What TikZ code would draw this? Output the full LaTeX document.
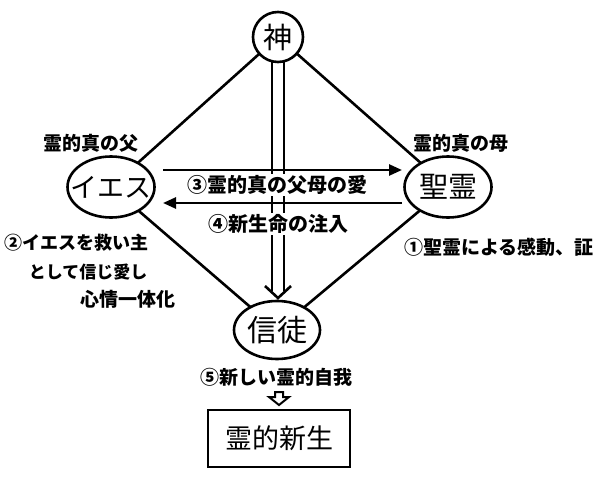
\documentclass[tikz,border=0pt]{standalone}
\usepackage{fontspec}
\newfontfamily\jp{Noto Sans CJK JP}
\usetikzlibrary{arrows.meta,shapes.geometric}
\newcommand{\zw}[1]{\makebox[0pt][c]{#1}}
\begin{document}
\begin{tikzpicture}[x=1pt,y=-1pt,
  lw/.style={line width=2.6pt},
  bignode/.style={draw,lw,ellipse,inner sep=0pt,outer sep=0pt,font=\jp\fontsize{29}{29}\selectfont},
  lbl/.style={font=\jp\bfseries\fontsize{19}{19}\selectfont,inner sep=1pt},
  conn/.style={lw},
  arr/.style={lw,-{Triangle[length=13pt,width=11pt]}}
]
\useasboundingbox (0,0) rectangle (600,482);
% main nodes
\node[bignode,circle,minimum size=50pt] (god) at (278,37) {\zw{神}};
\node[bignode,minimum width=87pt,minimum height=61pt,font=\jp\fontsize{27}{27}\selectfont] (jesus) at (111,187) {\zw{イエス}};
\node[bignode,minimum width=87pt,minimum height=61pt] (spirit) at (448,187) {\zw{聖霊}};
\node[bignode,minimum width=86pt,minimum height=58pt,font=\jp\fontsize{30}{30}\selectfont] (bel) at (277,330) {\zw{信徒}};
\node[draw,lw,rectangle,inner sep=0pt,minimum width=142pt,minimum height=57pt,font=\jp\fontsize{27}{27}\selectfont] (rebirth) at (279,438.5) {\zw{霊的新生}};
% diamond
\draw[conn] (god) -- (jesus);
\draw[conn] (god) -- (spirit);
\draw[conn] (jesus) -- (bel);
\draw[conn] (spirit) -- (bel);
% double arrow god -> believer
\coordinate (tip) at (278,298);
\draw[conn] ([xshift=-6pt]god.south) -- ([xshift=-6pt,yshift=7pt]tip);
\draw[conn] ([xshift=6pt]god.south) -- ([xshift=6pt,yshift=7pt]tip);
\draw[conn,line join=miter] ([xshift=-13pt,yshift=12pt]tip) -- (tip) -- ([xshift=13pt,yshift=12pt]tip);
% horizontal arrows
\coordinate (a3s) at (163,170);
\coordinate (a3e) at (402,170);
\coordinate (a4s) at (402,203);
\coordinate (a4e) at (163,203);
\draw[arr] (a3s) -- (a3e);
\draw[arr] (a4s) -- (a4e);
% labels
\node[lbl,fill=white,font=\jp\bfseries\fontsize{20}{20}\selectfont] (t3) at (277,185) {③霊的真の父母の愛};
\node[lbl,fill=white,font=\jp\bfseries\fontsize{20}{20}\selectfont] (t4) at (278,224) {④新生命の注入};
\node[lbl] (lf) at (91,143) {霊的真の父};
\node[lbl] (lm) at (461,143) {霊的真の母};
\node[lbl] (t1) at (499,247) {①聖霊による感動、証};
\node[lbl,anchor=west,font=\jp\bfseries\fontsize{18}{18}\selectfont] (t2a) at (3,243) {②イエスを救い主};
\node[lbl,font=\jp\bfseries\fontsize{17}{17}\selectfont] (t2b) at (88,272) {として信じ愛し};
\node[lbl] (t2c) at (127.5,299) {心情一体化};
\node[lbl] (t5) at (276,377) {⑤新しい霊的自我};
% hollow arrow
\coordinate (ha) at (279,392);
\draw[line width=2pt,line join=miter] ([xshift=-4pt]ha) -- ([xshift=4pt]ha) -- ([xshift=4pt,yshift=-5pt]ha) -- ([xshift=10pt,yshift=-5pt]ha) -- ([yshift=-13pt]ha) -- ([xshift=-10pt,yshift=-5pt]ha) -- ([xshift=-4pt,yshift=-5pt]ha) -- cycle;
\end{tikzpicture}
\end{document}
